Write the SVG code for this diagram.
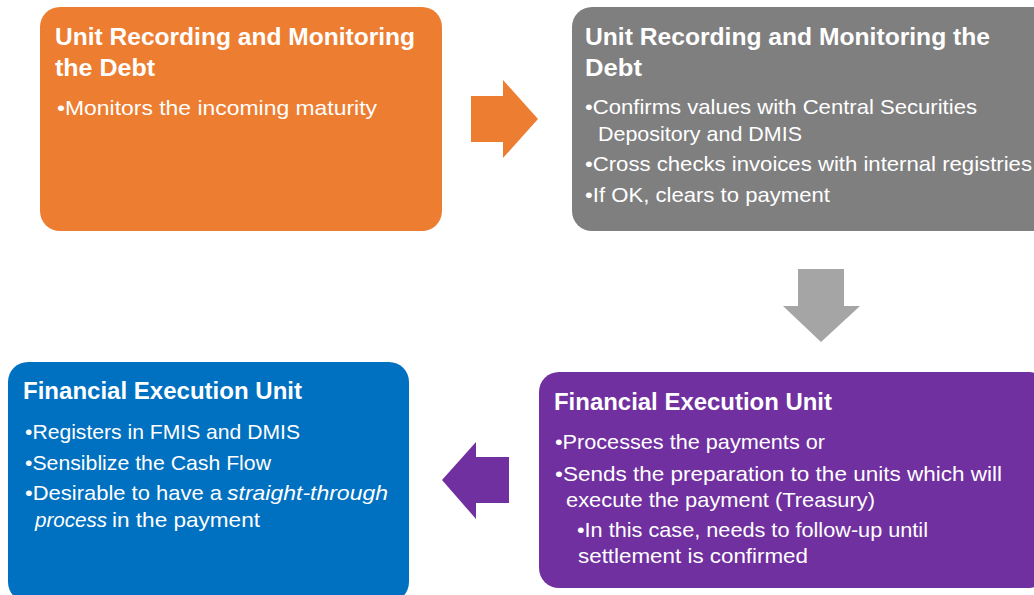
<svg xmlns="http://www.w3.org/2000/svg" width="1034" height="595" viewBox="0 0 1034 595">
<style>
.t{font-family:"Liberation Sans",Arial,sans-serif;font-weight:bold;font-size:24px;fill:#fff}
.b{font-family:"Liberation Sans",Arial,sans-serif;font-size:21px;fill:#fff}
.i{font-style:italic}
</style>
<rect width="1034" height="595" fill="#fff"/>
<g id="node-orange">
<rect x="40" y="7" width="402" height="224" rx="20" fill="#ED7D31"/>
<text class="t" x="55" y="45" textLength="360" lengthAdjust="spacingAndGlyphs">Unit Recording and Monitoring</text>
<text class="t" x="55" y="76" textLength="100" lengthAdjust="spacingAndGlyphs">the Debt</text>
<text class="b" x="57" y="115" textLength="320" lengthAdjust="spacingAndGlyphs">•Monitors the incoming maturity</text>
</g>
<g id="node-gray">
<rect x="572" y="7" width="480" height="224" rx="20" fill="#7F7F7F"/>
<text class="t" x="585" y="45" textLength="405" lengthAdjust="spacingAndGlyphs">Unit Recording and Monitoring the</text>
<text class="t" x="585" y="76" textLength="57" lengthAdjust="spacingAndGlyphs">Debt</text>
<text class="b" x="585" y="114" textLength="392" lengthAdjust="spacingAndGlyphs">•Confirms values with Central Securities</text>
<text class="b" x="598" y="141" textLength="204" lengthAdjust="spacingAndGlyphs">Depository and DMIS</text>
<text class="b" x="585" y="171" textLength="447" lengthAdjust="spacingAndGlyphs">•Cross checks invoices with internal registries</text>
<text class="b" x="585" y="202" textLength="245" lengthAdjust="spacingAndGlyphs">•If OK, clears to payment</text>
</g>
<g id="node-blue">
<rect x="8" y="362" width="401" height="240" rx="20" fill="#0070C0"/>
<text class="t" x="23" y="399" textLength="279" lengthAdjust="spacingAndGlyphs">Financial Execution Unit</text>
<text class="b" x="25" y="439" textLength="275" lengthAdjust="spacingAndGlyphs">•Registers in FMIS and DMIS</text>
<text class="b" x="25" y="470" textLength="246" lengthAdjust="spacingAndGlyphs">•Sensiblize the Cash Flow</text>
<text class="b" x="25" y="500" textLength="197" lengthAdjust="spacingAndGlyphs">•Desirable to have a</text>
<text class="b i" x="227" y="500" textLength="161" lengthAdjust="spacingAndGlyphs">straight-through</text>
<text class="b i" x="35" y="527" textLength="72" lengthAdjust="spacingAndGlyphs">process</text>
<text class="b" x="112" y="527" textLength="148" lengthAdjust="spacingAndGlyphs">in the payment</text>
</g>
<g id="node-purple">
<rect x="539" y="372" width="510" height="216" rx="20" fill="#7030A0"/>
<text class="t" x="554" y="410" textLength="278" lengthAdjust="spacingAndGlyphs">Financial Execution Unit</text>
<text class="b" x="555" y="449" textLength="270" lengthAdjust="spacingAndGlyphs">•Processes the payments or</text>
<text class="b" x="555" y="481" textLength="447" lengthAdjust="spacingAndGlyphs">•Sends the preparation to the units which will</text>
<text class="b" x="566" y="507" textLength="309" lengthAdjust="spacingAndGlyphs">execute the payment (Treasury)</text>
<text class="b" x="577" y="537" textLength="351" lengthAdjust="spacingAndGlyphs">•In this case, needs to follow-up until</text>
<text class="b" x="578" y="563" textLength="230" lengthAdjust="spacingAndGlyphs">settlement is confirmed</text>
</g>
<g id="connectors">
<polygon points="471,96 503,96 503,80 538,119 503,158 503,142 471,142" fill="#ED7D31"/>
<polygon points="798,269 844,269 844,306 860,306 821,342 783,306 798,306" fill="#A5A5A5"/>
<polygon points="509,457 476,457 476,442 442,480 476,519 476,503 509,503" fill="#7030A0"/>
</g>
</svg>
